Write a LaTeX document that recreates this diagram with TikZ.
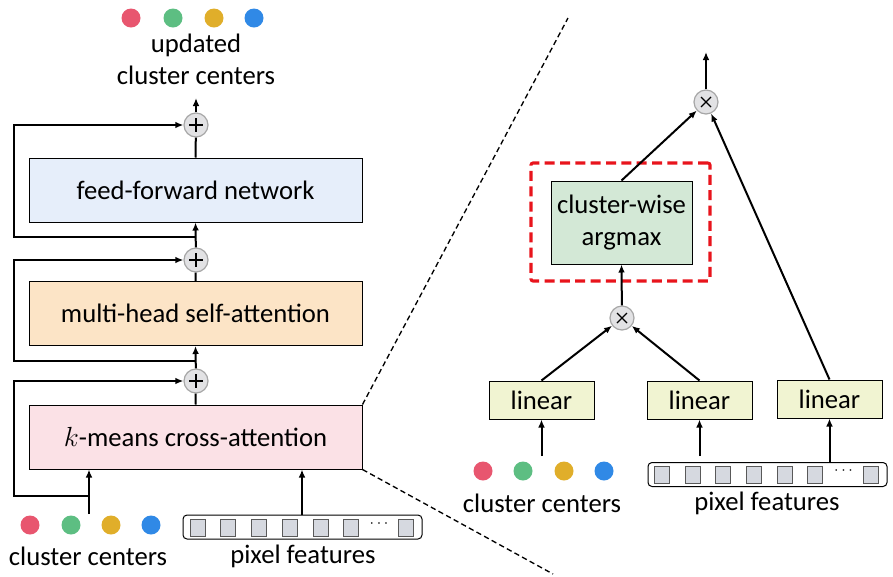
\documentclass[tikz,border=0pt]{standalone}
\usepackage{fontspec}
\setmainfont{Carlito}
\usetikzlibrary{arrows.meta,calc}
\definecolor{dred}{HTML}{E8566F}
\definecolor{dgreen}{HTML}{5DBE82}
\definecolor{dgold}{HTML}{E0AE2A}
\definecolor{dblue}{HTML}{3089E6}
\definecolor{ffnfill}{HTML}{E6EEFA}
\definecolor{mhfill}{HTML}{FCE4C6}
\definecolor{kmfill}{HTML}{FBE1E6}
\definecolor{amfill}{HTML}{D3E8D6}
\definecolor{linfill}{HTML}{F1F4D2}
\definecolor{sqfill}{HTML}{D6D9E0}
\definecolor{opfill}{HTML}{E2E2E4}
\definecolor{dashred}{HTML}{E8141C}
\tikzset{
  x=0.75pt,y=-0.75pt,
  txt/.style={font=\fontsize{20}{24}\selectfont},
  bigbox/.style={draw=black,line width=0.75pt,minimum width=249.75pt,minimum height=48pt,inner sep=0pt,txt},
  linbox/.style={draw=black,line width=0.75pt,fill=linfill,minimum width=78.75pt,minimum height=28.5pt,inner sep=0pt,txt},
  opnode/.style={circle,draw=black!35,fill=opfill,line width=0.9pt,minimum size=18pt,inner sep=0pt},
  dot/.style={circle,minimum size=14.25pt,inner sep=0pt},
  sq/.style={draw=black!65,fill=sqfill,line width=0.6pt,minimum width=11.25pt,minimum height=12.75pt,inner sep=0pt},
  pfrect/.style={draw=black,line width=0.75pt,rounded corners=3pt,minimum width=179.25pt,minimum height=18pt,inner sep=0pt},
  conn/.style={line width=1.5pt},
  arr/.style={line width=1.5pt,-{Latex[length=6pt,width=5pt]}},
  zoomline/.style={line width=1pt,dash pattern=on 4pt off 2.5pt},
}
\newcommand{\plusmark}[1]{\draw[line width=0.9pt] ($(#1)+(-7,0)$) -- ($(#1)+(7,0)$) ($(#1)+(0,-7)$) -- ($(#1)+(0,7)$);}
\newcommand{\timesmark}[1]{\draw[line width=0.9pt] ($(#1)+(-5,-5)$) -- ($(#1)+(5,5)$) ($(#1)+(-5,5)$) -- ($(#1)+(5,-5)$);}
\begin{document}
\begin{tikzpicture}
\useasboundingbox (0,0) rectangle (893,576);
% ---------------- left side ----------------
\node[dot,fill=dred]   (ud1) at (131,18) {};
\node[dot,fill=dgreen] (ud2) at (173,18) {};
\node[dot,fill=dgold]  (ud3) at (214,18) {};
\node[dot,fill=dblue]  (ud4) at (254,18) {};
\node[txt,align=center] (utxt) at (196,59) {updated\\cluster centers};

\node[bigbox,fill=ffnfill] (ffn) at (195.5,190) {feed-forward network};
\node[bigbox,fill=mhfill]  (mh)  at (195.5,313.5) {multi-head self-attention};
\node[bigbox,fill=kmfill]  (km)  at (195.5,437) {$k$-means cross-attention};

\node[opnode] (p1) at (196,125) {};
\node[opnode] (p2) at (196,260) {};
\node[opnode] (p3) at (196,381) {};
\plusmark{p1}\plusmark{p2}\plusmark{p3}

\coordinate (o1) at (196,98);
\draw[arr] (p1) -- (o1);
\draw[conn] (ffn.north) -- (p1);
\draw[arr] (p2) -- (ffn.south);
\draw[conn] (mh.north) -- (p2);
\draw[arr] (p3) -- (mh.south);
\draw[conn] (km.north) -- (p3);

\coordinate (r1) at (196,237);
\coordinate (r2) at (196,361);
\draw[arr] (r1) -- ++(-182,0) |- (p1.west);
\draw[arr] (r2) -- ++(-182,0) |- (p2.west);

% inputs
\node[dot,fill=dred]   (cd1) at (30,525) {};
\node[dot,fill=dgreen] (cd2) at (71,525) {};
\node[dot,fill=dgold]  (cd3) at (111,525) {};
\node[dot,fill=dblue]  (cd4) at (151,525) {};
\node[txt] (ctxt) at (88,556) {cluster centers};
\coordinate (cin) at (89,514);
\coordinate (b3) at (89,496);
\draw[arr] (cin) -- (cin |- km.south);
\draw[arr] (b3) -- ++(-75,0) |- (p3.west);

\node[pfrect] (pf) at (302.5,527) {};
\foreach \i/\x in {1/197.5,2/228,3/258.5,4/289.5,5/320.5,6/351,7/406} {
  \node[sq] (s\i) at (\x,528) {};
}
\node[font=\fontsize{12}{12}\selectfont] (sdots) at (379,524) {$\cdots$};
\node[txt] (ptxt) at (303,556) {pixel features};
\draw[arr] (pf.north -| 302,0) -- (302,0 |- km.south);

% zoom lines
\coordinate (zt) at (568,18);
\coordinate (zb) at (553,574);
\draw[zoomline] (km.north east) -- (zt);
\draw[zoomline] (km.south east) -- (zb);

% ---------------- right side ----------------
\node[draw=dashred,line width=2.3pt,dash pattern=on 7.5pt off 4pt,rounded corners=1.5pt,minimum width=134.25pt,minimum height=88.5pt,inner sep=0pt] (red) at (620.5,222) {};
\node[draw=black,line width=0.75pt,fill=amfill,minimum width=105.75pt,minimum height=62.25pt,inner sep=0pt,txt,align=center] (am) at (621.5,222.5) {cluster-wise\\argmax};

\node[opnode] (tx) at (706,102) {};
\node[opnode] (mx) at (622,318) {};
\timesmark{tx}\timesmark{mx}

\node[linbox] (l1) at (541.5,400) {linear};
\node[linbox] (l2) at (699.5,400) {linear};
\node[linbox] (l3) at (829.5,399) {linear};

\coordinate (o2) at (706,52);
\draw[arr] (tx) -- (o2);
\draw[arr] (am.north) -- (tx);
\draw[arr] (l3.north) -- (tx);
\draw[arr] (mx) -- (am.south);
\draw[arr] (l1.north) -- (mx);
\draw[arr] (l2.north) -- (mx);

\node[dot,fill=dred]   (rd1) at (483,471) {};
\node[dot,fill=dgreen] (rd2) at (523,471) {};
\node[dot,fill=dgold]  (rd3) at (564,471) {};
\node[dot,fill=dblue]  (rd4) at (604,471) {};
\node[txt] (rctxt) at (542,503) {cluster centers};
\coordinate (rcin) at (541.5,456);
\draw[arr] (rcin) -- (l1.south);

\node[pfrect] (rpf) at (767.5,474.5) {};
\foreach \i/\x in {1/662,2/693,3/723,4/754,5/785,6/815,7/871} {
  \node[sq] (rs\i) at (\x,474.5) {};
}
\node[font=\fontsize{12}{12}\selectfont] (rsdots) at (843.5,471) {$\cdots$};
\node[txt] (rptxt) at (767,503) {pixel features};
\coordinate (rp2) at (699.5,456);
\draw[arr] (rp2) -- (l2.south);
\draw[arr] (rpf.north -| l3.south) -- (l3.south);
\end{tikzpicture}
\end{document}
